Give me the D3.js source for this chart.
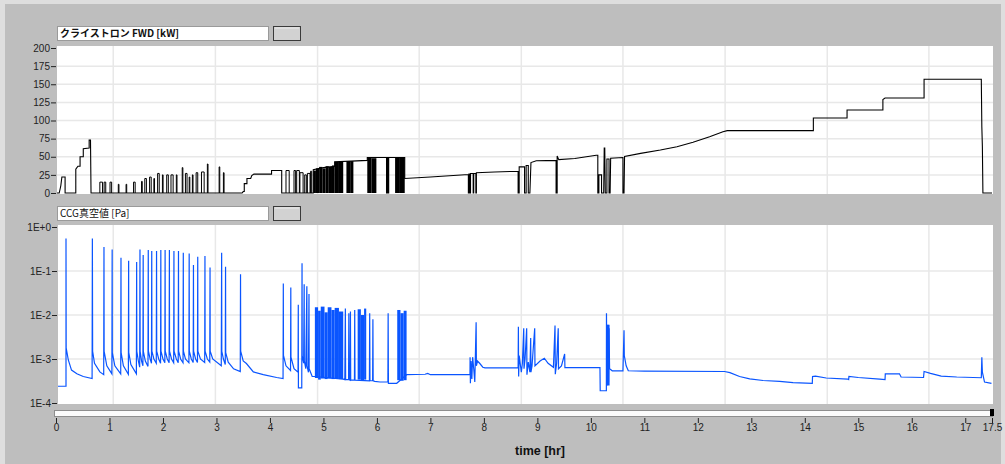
<!DOCTYPE html>
<html>
<head>
<meta charset="utf-8">
<script src="https://cdn.jsdelivr.net/npm/d3@7"></script>
<style>
  body { margin: 0; background: #bebebe; }
  svg { display: block; }
</style>
</head>
<body>
<script>

// ---------- data ----------

var hourTicks = [0, 1, 2, 3, 4, 5, 6, 7, 8, 9, 10, 11, 12, 13, 14, 15, 16, 17, 17.5];
var gridHours = [1.07, 2.98, 4.89, 6.79, 8.70, 10.60, 12.51, 14.42, 16.32];   // chart's own grid, not on the hour

var fwdTicks = [0, 25, 50, 75, 100, 125, 150, 175, 200];
var fwdGrid = [25, 50, 75, 100, 125, 150, 175];
var ccgTicks = [1, 0.1, 0.01, 0.001, 0.0001];
var ccgTickLabels = ["1E+0", "1E-1", "1E-2", "1E-3", "1E-4"];
var ccgGrid = [0.1, 0.01, 0.001];

var fwdLabel = "クライストロン FWD [kW]";
var ccgLabel = "CCG真空値 [Pa]";
var xLabel = "time [hr]";

// klystron forward power [hr, kW]
var fwdTrace = [
  [0,0],[0.06,0],[0.09,10],[0.11,22],[0.17,22],[0.17,0],
  [0.37,0],[0.37,33],[0.41,37],[0.45,37],[0.45,50],[0.51,50],[0.51,61],[0.62,62],[0.62,73],[0.645,73],[0.655,0],
  [3.48,0],[3.50,2],[3.52,2],[3.52,13],[3.57,13],[3.57,20],[3.64,20],[3.66,24],[3.70,26],[4.03,26],[4.03,31],[4.22,31],[4.22,0],
  [4.81,0],[4.81,32],[5.0,35],[5.21,37],[5.21,43],[5.52,44],[5.82,45],[5.82,49],[6.18,49],[6.18,0],[6.19,0],[6.19,49],
  [6.21,49],[6.21,0],[6.22,0],[6.22,49],[6.52,49],[6.52,20],
  [7.0,22],[7.5,24.5],[7.71,25.5],[7.71,0],[7.72,0],[7.72,26],[7.74,26],[7.74,0],[7.75,0],[7.75,27],[7.80,27],[7.80,0],
  [7.81,0],[7.81,27],[7.85,27],[7.85,0],[7.86,0],[7.86,28],[8.2,29],[8.64,30],
  [8.64,0],[8.66,0],[8.66,36],[8.76,36],[8.76,0],[8.79,0],[8.79,38],[8.83,38],[8.83,0],[8.86,0],[8.88,42],[8.98,44.5],
  [9.35,45],[9.35,0],[9.37,0],[9.37,51],[9.40,46],[9.7,47.5],[10.1,52],[10.13,52],
  [10.13,0],[10.15,0],[10.15,25],[10.2,25],[10.2,0],[10.24,0],[10.25,62],[10.26,62],[10.27,0],[10.30,0],[10.30,47],
  [10.34,47],[10.34,0],[10.36,0],[10.37,48],[10.60,49],[10.60,0],[10.62,0],[10.63,50.5],
  [10.93,54.7],[11.3,59.3],[11.61,63.9],[11.91,69.9],[12.22,77.7],[12.47,84.6],[12.55,86],[14.16,86],[14.16,103.5],
  [14.79,103.5],[14.79,114.5],[15.46,114.5],[15.46,129],[15.50,131],[16.23,131],[16.23,157],[17.30,157],
  [17.31,91],[17.32,64],[17.33,0],[17.5,0]
];

// short RF pulses from zero [start hr, length hr, kW]
var fwdPulses = [
  [0.82,0.05,15],[0.90,0.03,15],[1.01,0.03,15],[1.165,0.012,12],[1.31,0.012,12],[1.45,0.03,15],[1.60,0.012,16],
  [1.66,0.03,20],[1.75,0.03,22],[1.83,0.012,20],[1.90,0.03,27],[1.99,0.012,25],[2.07,0.03,25],[2.15,0.04,25],
  [2.25,0.012,25],[2.36,0.012,35],[2.42,0.03,27],[2.49,0.012,22],[2.55,0.012,25],[2.62,0.03,28],[2.72,0.05,29],
  [2.83,0.012,40],[3.05,0.012,36],[3.13,0.012,28],
  [4.30,0.06,31],[4.45,0.03,31],[4.50,0.05,31],[4.56,0.06,28],[4.65,0.03,25],[4.70,0.05,27],[4.76,0.02,30]
];

// fast on/off bursts drawn as solid [from hr, to hr, top kW]
var fwdBursts = [
  [4.81,4.86,31],[4.86,4.92,34],[4.92,4.98,36],[4.98,5.04,34],[5.04,5.10,37],[5.10,5.16,36],[5.16,5.21,38],
  [5.21,5.29,43],[5.29,5.37,44],[5.43,5.50,44],[5.50,5.56,44],[5.82,5.90,49],[5.90,5.99,48],[6.34,6.43,49],[6.43,6.52,49]
];

// CCG vacuum [hr, Pa]
var ccgTrace = [
  [0,2.4e-4],[0.187,2.4e-4],[0.187,0.55],[0.19,1.8e-3],[0.23,9.5e-4],[0.29,5.6e-4],[0.39,4.6e-4],[0.51,4.0e-4],[0.675,3.6e-4],
  [0.68,0.55],[0.685,1.5e-3],[0.72,8e-4],[0.82,5.1e-4],[0.892,4.4e-4],
  [0.897,0.35],[0.90,1.5e-3],[0.95,7e-4],[1.045,4.6e-4],
  [1.05,0.31],[1.053,1.4e-3],[1.10,7e-4],[1.21,4.6e-4],
  [1.215,0.20],[1.218,1.4e-3],[1.26,7e-4],[1.353,4.5e-4],
  [1.358,0.17],[1.361,1.4e-3],[1.40,7.5e-4],[1.503,4.6e-4],
  [1.508,0.16],[1.511,1.5e-3],[1.54,9e-4],[1.565,6.5e-4],
  [1.57,0.31],[1.573,1.5e-3],[1.60,9e-4],[1.625,7e-4],
  [1.63,0.23],[1.633,1.5e-3],[1.67,9e-4],[1.72,6.8e-4],
  [1.725,0.30],[1.728,1.5e-3],[1.76,1.0e-3],[1.785,8e-4],
  [1.79,0.285],[1.793,1.5e-3],[1.83,1.0e-3],[1.875,8e-4],
  [1.88,0.285],[1.883,1.5e-3],[1.92,1.0e-3],[1.955,8e-4],
  [1.96,0.30],[1.963,1.5e-3],[2.00,1.0e-3],[2.035,8.2e-4],
  [2.04,0.30],[2.043,1.5e-3],[2.08,1.0e-3],[2.115,8.2e-4],
  [2.12,0.30],[2.123,1.5e-3],[2.16,1.0e-3],[2.20,8.2e-4],
  [2.205,0.285],[2.208,1.5e-3],[2.25,1.0e-3],[2.285,8.2e-4],
  [2.29,0.285],[2.293,1.5e-3],[2.33,1.0e-3],[2.375,8.2e-4],
  [2.38,0.26],[2.383,1.5e-3],[2.42,1.0e-3],[2.485,8.2e-4],
  [2.49,0.25],[2.493,1.5e-3],[2.53,1.0e-3],[2.565,8.3e-4],
  [2.57,0.137],[2.573,1.5e-3],[2.61,1.0e-3],[2.645,8.3e-4],
  [2.65,0.21],[2.653,1.5e-3],[2.70,1.0e-3],[2.78,8.3e-4],
  [2.785,0.22],[2.788,1.5e-3],[2.83,1.0e-3],[2.875,8.5e-4],
  [2.88,0.12],[2.883,1.5e-3],[2.93,1.0e-3],[3.09,7.0e-4],
  [3.097,0.26],[3.10,1.5e-3],[3.13,1.0e-3],[3.165,7.5e-4],
  [3.17,0.125],[3.173,1.4e-3],[3.22,8.5e-4],[3.32,6e-4],[3.445,5.2e-4],
  [3.45,0.084],[3.453,1.5e-3],[3.50,9e-4],[3.56,7.9e-4],[3.69,5.1e-4],[3.875,4.4e-4],[4.125,3.8e-4],[4.245,3.6e-4],
  [4.25,0.052],[4.253,1.2e-3],[4.30,7e-4],[4.385,5.5e-4],
  [4.39,0.042],[4.393,1.1e-3],[4.45,6e-4],[4.525,5e-4],
  [4.53,0.017],[4.532,2.2e-4],[4.595,2.2e-4],
  [4.60,0.15],[4.603,1.2e-3],[4.63,8e-4],[4.64,0.05],[4.643,9e-4],[4.67,6e-4],[4.69,0.045],[4.693,7e-4],[4.72,5e-4],
  [4.73,0.03],[4.733,6e-4],[4.79,4e-4],[4.84,4e-4],
  [5.37,3.5e-4],[5.40,3.4e-4],[5.41,1.4e-2],[5.415,3.4e-4],[5.47,3.4e-4],[5.475,1.1e-2],[5.48,3.4e-4],
  [5.50,3.3e-4],[5.505,1.2e-2],[5.51,3.3e-4],[5.58,3.3e-4],[5.585,1.3e-2],[5.59,3.3e-4],[5.86,3.2e-4],
  [5.865,1.1e-2],[5.87,3.2e-4],[5.92,3.2e-4],[5.925,8e-3],[5.93,3.2e-4],[5.96,3.1e-4],
  [6.06,3.0e-4],[6.205,3.0e-4],[6.21,0.011],[6.215,2.8e-4],[6.37,2.8e-4],
  [6.555,4.4e-4],[6.9,4.5e-4],[6.95,4.7e-4],[7.0,4.4e-4],[7.3,4.4e-4],[7.74,4.4e-4],
  [7.742,1.1e-3],[7.748,2.8e-4],[7.76,9e-4],[7.775,3.5e-4],[7.79,1.1e-3],[7.81,6e-4],[7.83,3e-4],[7.855,6.8e-3],
  [7.86,7e-4],[7.88,9e-4],[7.92,8e-4],[7.98,6.5e-4],[8.02,6.3e-4],[8.64,6.3e-4],
  [8.645,5.4e-3],[8.65,4e-4],[8.66,1.2e-3],[8.70,5e-4],[8.72,8e-4],[8.745,5.0e-3],[8.75,6e-4],[8.77,1.0e-3],
  [8.80,5e-3],[8.805,4.4e-4],[8.83,8.5e-4],[8.86,5e-4],[8.875,3e-3],[8.88,5e-4],[8.90,7e-4],[8.95,5e-3],[8.955,7e-4],
  [9.05,9e-4],[9.13,1.04e-3],[9.2,8e-4],[9.3,6.5e-4],
  [9.33,5.8e-3],[9.335,4.5e-4],[9.36,8e-4],[9.39,5e-3],[9.395,6e-4],[9.45,7e-4],[9.51,1.3e-3],[9.515,6.4e-4],
  [10.17,6.4e-4],[10.175,1.9e-4],[10.29,1.9e-4],[10.292,0.011],[10.30,2.5e-4],[10.32,6e-3],[10.33,3e-4],
  [10.34,5e-3],[10.35,6e-4],[10.40,5.4e-4],[10.60,5.4e-4],[10.62,4.5e-3],[10.625,1.2e-3],[10.66,7e-4],[10.70,5.4e-4],
  [11.0,5.3e-4],[12.5,5.2e-4],[12.6,4.9e-4],[12.78,4.0e-4],[12.97,3.55e-4],[13.22,3.25e-4],[13.53,3.1e-4],
  [13.78,2.9e-4],[14.14,2.8e-4],[14.145,4.0e-4],[14.2,4.1e-4],[14.4,3.7e-4],[14.8,3.5e-4],[14.82,3.4e-4],
  [14.825,4.0e-4],[15.0,3.8e-4],[15.4,3.5e-4],[15.5,3.4e-4],[15.505,4.6e-4],[15.77,4.6e-4],[15.8,3.9e-4],
  [16.22,3.8e-4],[16.23,5.2e-4],[16.35,4.7e-4],[16.55,4.1e-4],[16.84,3.9e-4],[17.30,3.75e-4],
  [17.31,1.1e-3],[17.32,5e-4],[17.36,3.0e-4],[17.49,2.8e-4]
];

// dense spiking, drawn as solid [from hr, to hr, low Pa, high Pa]
var ccgBursts = [
  [4.84,4.90,3.7e-4,1.5e-2],[4.90,4.95,3.4e-4,1.25e-2],[4.95,5.02,3.6e-4,1.55e-2],[5.02,5.08,3.5e-4,1.15e-2],
  [5.08,5.15,3.6e-4,1.5e-2],[5.15,5.21,3.5e-4,1.3e-2],[5.21,5.29,3.6e-4,1.45e-2],[5.29,5.37,3.5e-4,1.2e-2],
  [5.64,5.70,3.4e-4,1.35e-2],[5.70,5.76,3.3e-4,1.0e-2],[5.76,5.80,3.4e-4,1.4e-2],
  [6.38,6.44,3.3e-4,1.3e-2],[6.44,6.50,3.2e-4,1.1e-2],[6.50,6.555,3.3e-4,1.25e-2],
  [10.30,10.35,2.5e-4,6e-3]
];

// ---------- layout ----------

var w = 1005;
var h = 464;

var top1 = { x0: 57, x1: 993, y0: 46, y1: 194 };
var bot1 = { x0: 58, x1: 993, y0: 225, y1: 404 };

var xScale = d3.scaleLinear().domain([0, 17.5]).range([56, 992]);
var yFwd = d3.scaleLinear().domain([0, 200]).range([193, 48]);
var yCcg = d3.scaleLog().domain([1e-4, 1]).range([403, 227]);

var svg = d3.select("body")
            .append("svg")
            .attr("width", w)
            .attr("height", h);

// panel background with light frame
svg.append("rect").attr("width", w).attr("height", h).attr("fill", "#dedede");
svg.append("rect").attr("x", 5).attr("y", 4).attr("width", 996).attr("height", h - 4).attr("fill", "#bebebe");

var defs = svg.append("defs");
[["clipTop", top1], ["clipBot", bot1]].forEach(function(c) {
  defs.append("clipPath").attr("id", c[0])
      .append("rect")
      .attr("x", c[1].x0).attr("y", c[1].y0)
      .attr("width", c[1].x1 - c[1].x0).attr("height", c[1].y1 - c[1].y0);
});

// legend box + button
function legend(y, label, bold) {
  svg.append("rect").attr("x", 57.5).attr("y", y + 0.5).attr("width", 211).attr("height", 14)
     .attr("fill", "#ffffff").attr("stroke", "#9a9a9a");
  svg.append("text").attr("x", 60).attr("y", y + 11)
     .attr("font-family", "'Noto Sans CJK JP', sans-serif")
     .attr("font-size", "10px")
     .attr("font-weight", bold ? "bold" : "normal")
     .attr("fill", "#111")
     .text(label);
  svg.append("rect").attr("x", 273.5).attr("y", y + 0.5).attr("width", 27).attr("height", 14)
     .attr("fill", "#d2d2d2").attr("stroke", "#3a3a3a");
  svg.append("line").attr("x1", 275).attr("x2", 299).attr("y1", y + 2).attr("y2", y + 2)
     .attr("stroke", "#ececec");
}
legend(26, fwdLabel, true);
legend(206, ccgLabel, false);

// plot areas
function plotArea(p) {
  svg.append("rect").attr("x", p.x0).attr("y", p.y0)
     .attr("width", p.x1 - p.x0).attr("height", p.y1 - p.y0)
     .attr("fill", "#ffffff");
}
plotArea(top1);
plotArea(bot1);

// grids
function grid(p, yVals, yScale) {
  var g = svg.append("g").attr("stroke", "#e8e8e8").attr("stroke-width", 1.5);
  g.selectAll("line.v").data(gridHours).enter().append("line")
   .attr("x1", function(d) { return xScale(d); })
   .attr("x2", function(d) { return xScale(d); })
   .attr("y1", p.y0).attr("y2", p.y1);
  g.selectAll("line.h").data(yVals).enter().append("line")
   .attr("x1", p.x0).attr("x2", p.x1)
   .attr("y1", function(d) { return yScale(d); })
   .attr("y2", function(d) { return yScale(d); });
}
grid(top1, fwdGrid, yFwd);
grid(bot1, ccgGrid, yCcg);

// ---------- klystron FWD ----------
var gTop = svg.append("g").attr("clip-path", "url(#clipTop)");

gTop.selectAll("rect.burst").data(fwdBursts).enter().append("rect")
    .attr("x", function(d) { return xScale(d[0]); })
    .attr("width", function(d) { return xScale(d[1]) - xScale(d[0]); })
    .attr("y", function(d) { return yFwd(d[2]); })
    .attr("height", function(d) { return yFwd(0) - yFwd(d[2]); })
    .attr("fill", "#000");

gTop.selectAll("path.pulse").data(fwdPulses).enter().append("path")
    .attr("d", function(d) {
      var a = xScale(d[0]), b = xScale(d[0] + d[1]);
      return "M" + a + "," + yFwd(0) + "V" + yFwd(d[2]) + "H" + b + "V" + yFwd(0);
    })
    .attr("fill", "none").attr("stroke", "#000").attr("stroke-width", 1);

var fwdLine = d3.line()
                .x(function(d) { return xScale(d[0]); })
                .y(function(d) { return yFwd(d[1]); });

gTop.append("path").datum(fwdTrace)
    .attr("d", fwdLine)
    .attr("fill", "none").attr("stroke", "#000").attr("stroke-width", 1.1);

// ---------- CCG ----------
var blue = "#0a55ff";
var gBot = svg.append("g").attr("clip-path", "url(#clipBot)");

gBot.selectAll("rect.burst").data(ccgBursts).enter().append("rect")
    .attr("x", function(d) { return xScale(d[0]); })
    .attr("width", function(d) { return xScale(d[1]) - xScale(d[0]); })
    .attr("y", function(d) { return yCcg(d[3]); })
    .attr("height", function(d) { return yCcg(d[2]) - yCcg(d[3]); })
    .attr("fill", blue);

var ccgLine = d3.line()
                .x(function(d) { return xScale(d[0]); })
                .y(function(d) { return yCcg(d[1]); });

gBot.append("path").datum(ccgTrace)
    .attr("d", ccgLine)
    .attr("fill", "none").attr("stroke", blue).attr("stroke-width", 1.2);

// ---------- axes ----------
var tickFont = "'Liberation Sans', Arial, sans-serif";

var yAxisTop = d3.axisLeft(yFwd).tickValues(fwdTicks).tickSize(5).tickPadding(1);
svg.append("g").attr("transform", "translate(56,0)").call(yAxisTop);

var yAxisBot = d3.axisLeft(yCcg).tickValues(ccgTicks).tickSize(5).tickPadding(1)
                 .tickFormat(function(d, i) { return ccgTickLabels[i]; });
svg.append("g").attr("transform", "translate(57,0)").call(yAxisBot);

// slider strip above the time axis
svg.append("rect").attr("x", 54).attr("y", 410).attr("width", 939).attr("height", 7).attr("fill", "#8e8e8e");
svg.append("rect").attr("x", 55).attr("y", 411).attr("width", 937).attr("height", 5).attr("fill", "#fbfbfb");
svg.append("rect").attr("x", xScale(17.5) - 2).attr("y", 409).attr("width", 4).attr("height", 7).attr("fill", "#000");

var xAxis = d3.axisBottom(xScale).tickValues(hourTicks).tickSize(5).tickPadding(1)
              .tickFormat(function(d) { return d; });
svg.append("g").attr("transform", "translate(0,418)").call(xAxis);

svg.selectAll(".domain").remove();
svg.selectAll(".tick line").attr("stroke", "#222");
svg.selectAll(".tick text")
   .attr("font-family", tickFont)
   .attr("font-size", "10px")
   .attr("fill", "#222");

svg.append("text")
   .attr("x", 540).attr("y", 455)
   .attr("text-anchor", "middle")
   .attr("font-family", tickFont)
   .attr("font-size", "12.5px")
   .attr("font-weight", "bold")
   .attr("fill", "#111")
   .text(xLabel);

</script>
</body>
</html>
